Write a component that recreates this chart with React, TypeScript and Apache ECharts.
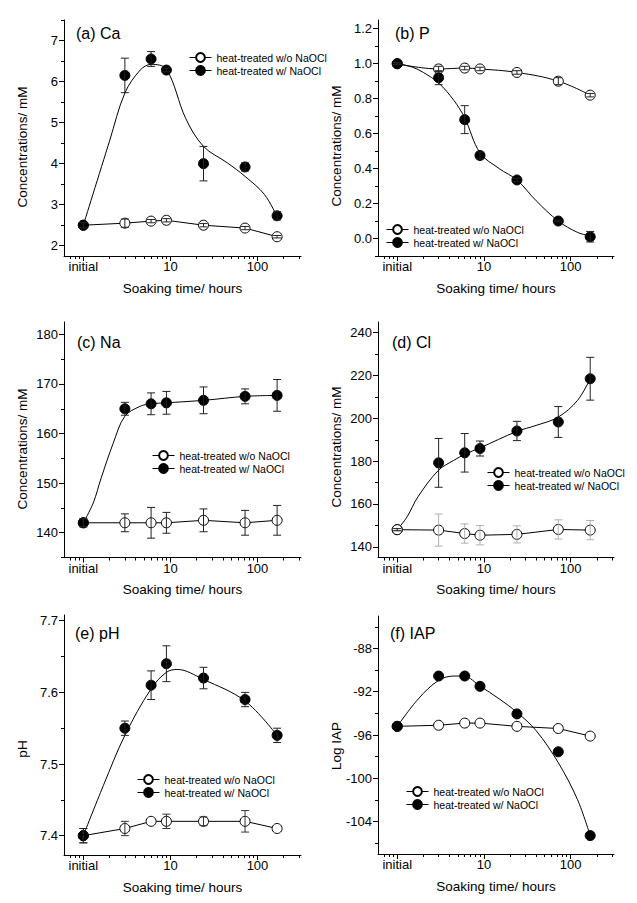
import React, { useEffect, useRef } from 'react';
import * as echarts from 'echarts';

const FONT = '"Liberation Sans", Arial, sans-serif';

// ---- shared x (soaking time, hours; "initial" plotted at 1 h on a log scale)
const HOURS = [1, 3, 6, 9, 24, 72, 168];
const X_MIN_HOURS = 0.6;
const X_MAX_HOURS = 316;
const X_TICK_HOURS = [1, 10, 100];
const X_TICK_LABELS = ['initial', '10', '100'];
const X_MINOR_HOURS = [0.7, 0.8, 0.9, 2, 3, 4, 5, 6, 7, 8, 9, 20, 30, 40, 50, 60, 70, 80, 90, 200, 300];

const NAME_OPEN = 'heat-treated w/o NaOCl';
const NAME_FILLED = 'heat-treated w/ NaOCl';

// ---- (a) Ca
const caOpen = [2.5, 2.55, 2.6, 2.62, 2.5, 2.43, 2.22];
const caOpenErr = [0.06, 0.1, 0.04, 0.04, 0.04, 0.04, 0.03];
const caFilled = [2.5, 6.15, 6.55, 6.28, 4.0, 3.92, 2.73];
const caFilledErr = [0.07, 0.42, 0.18, 0.04, 0.42, 0.1, 0.1];
const caFitHours = [1, 2, 3, 4.5, 6, 9, 15, 24, 45, 72, 120, 168];
const caFit = [2.5, 4.55, 5.72, 6.28, 6.42, 6.3, 5.1, 4.42, 4.02, 3.69, 3.25, 2.71];
const caYTicks = [2, 3, 4, 5, 6, 7];
const caYMinor = [2.5, 3.5, 4.5, 5.5, 6.5, 7.5];

// ---- (b) P
const pOpen = [1.0, 0.97, 0.975, 0.97, 0.95, 0.9, 0.82];
const pOpenErr = [0.005, 0.015, 0.01, 0.01, 0.01, 0.02, 0.01];
const pFilled = [1.0, 0.92, 0.68, 0.475, 0.335, 0.1, 0.01];
const pFilledErr = [0.005, 0.04, 0.08, 0.02, 0.01, 0.005, 0.03];
const pFitHours = [1, 1.5, 2, 3, 4.5, 6, 9, 15, 24, 40, 72, 120, 168];
const pFit = [1.0, 0.98, 0.95, 0.89, 0.79, 0.69, 0.49, 0.4, 0.335, 0.216, 0.1, 0.035, 0.015];
const pYTicks = [0, 0.2, 0.4, 0.6, 0.8, 1.0, 1.2];
const pYMinor = [-0.1, 0.1, 0.3, 0.5, 0.7, 0.9, 1.1];

// ---- (c) Na
const naOpen = [142, 142, 142, 142, 142.5, 142, 142.5];
const naOpenErr = [0.8, 1.8, 3.1, 2.1, 2.3, 2.5, 3.0];
const naFilled = [142, 165, 166, 166.2, 166.7, 167.5, 167.7];
const naFilledErr = [0.8, 1.3, 2.2, 2.3, 2.7, 1.5, 3.2];
const naFitHours = [1, 1.3, 1.6, 2.2, 3, 4.5, 6, 9, 24, 72, 168];
const naFit = [142, 146, 151, 158, 163.5, 165.5, 166, 166.2, 166.7, 167.5, 167.7];
const naYTicks = [140, 150, 160, 170, 180];
const naYMinor = [135, 145, 155, 165, 175];

// ---- (d) Cl
const clOpen = [148, 147.8, 146.2, 145.4, 145.8, 148.1, 147.8];
const clOpenErr = [0.5, 7.5, 4.5, 4.5, 4.0, 4.5, 4.5];
const clFilled = [148, 179.2, 183.9, 185.9, 194.1, 198.3, 218.5];
const clFilledErr = [0.5, 11.4, 9.0, 3.5, 4.5, 7.2, 10.0];
const clFitHours = [1, 1.3, 1.73, 3, 4.5, 6, 9, 24, 40, 72, 120, 168];
const clFit = [148, 154, 163.3, 175.8, 180.4, 183.2, 186.2, 193.9, 196.7, 200.6, 208.4, 218.5];
const clYTicks = [140, 160, 180, 200, 220, 240];
const clYMinor = [150, 170, 190, 210, 230];

// ---- (e) pH
const phOpen = [7.4, 7.41, 7.42, 7.42, 7.42, 7.42, 7.41];
const phOpenErr = [0.01, 0.01, 0, 0.01, 0.006, 0.015, 0];
const phFilled = [7.4, 7.55, 7.61, 7.64, 7.62, 7.59, 7.54];
const phFilledErr = [0.01, 0.01, 0.02, 0.025, 0.015, 0.01, 0.01];
const phFitHours = [1, 1.7, 3, 6, 9, 12, 24, 72, 168];
const phFit = [7.4, 7.47, 7.54, 7.605, 7.628, 7.632, 7.618, 7.588, 7.54];
const phYTicks = [7.4, 7.5, 7.6, 7.7];
const phYMinor = [7.45, 7.55, 7.65];

// ---- (f) IAP
const iapOpen = [-95.2, -95.1, -94.9, -94.9, -95.2, -95.4, -96.1];
const iapFilled = [-95.2, -90.55, -90.55, -91.5, -94.05, -97.55, -105.3];
const iapFitHours = [1, 1.75, 3, 4.5, 6, 9, 15, 24, 40, 72, 120, 168];
const iapFit = [-95.2, -92.66, -90.95, -90.55, -90.58, -91.48, -92.66, -93.9, -95.6, -98.56, -101.98, -105.3];
const iapYTicks = [-104, -100, -96, -92, -88];
const iapYMinor = [-106, -102, -98, -94, -90, -86];

type Panel = {
  title: string;
  yName: string;
  grid: [number, number, number, number];
  yMin: number;
  yMax: number;
  yTicks: number[];
  yMinor: number[];
  yDec: number;
  open: number[];
  openErr: number[] | null;
  openErrColor: string;
  openSmooth: boolean;
  openOnTop: boolean;
  filled: number[];
  filledErr: number[] | null;
  fitHours: number[];
  fit: number[];
  legend: [number, number];
  titlePos: [number, number];
  yNamePos: [number, number];
};

const panels: Panel[] = [
  {
    title: '(a) Ca', yName: 'Concentrations/ mM', grid: [64, 20, 237, 236],
    yMin: 1.75, yMax: 7.5, yTicks: caYTicks, yMinor: caYMinor, yDec: 0,
    open: caOpen, openErr: caOpenErr, openErrColor: '#222', openSmooth: false, openOnTop: false,
    filled: caFilled, filledErr: caFilledErr, fitHours: caFitHours, fit: caFit,
    legend: [189, 52], titlePos: [76, 33], yNamePos: [22, 147],
  },
  {
    title: '(b) P', yName: 'Concentrations/ mM', grid: [378, 20, 236, 236],
    yMin: -0.1, yMax: 1.25, yTicks: pYTicks, yMinor: pYMinor, yDec: 1,
    open: pOpen, openErr: pOpenErr, openErrColor: '#222', openSmooth: true, openOnTop: false,
    filled: pFilled, filledErr: pFilledErr, fitHours: pFitHours, fit: pFit,
    legend: [386, 224], titlePos: [395, 33], yNamePos: [336, 146],
  },
  {
    title: '(c) Na', yName: 'Concentrations/ mM', grid: [64, 322, 237, 235.5],
    yMin: 135, yMax: 182.5, yTicks: naYTicks, yMinor: naYMinor, yDec: 0,
    open: naOpen, openErr: naOpenErr, openErrColor: '#222', openSmooth: false, openOnTop: false,
    filled: naFilled, filledErr: naFilledErr, fitHours: naFitHours, fit: naFit,
    legend: [152, 450], titlePos: [77, 342], yNamePos: [22, 449],
  },
  {
    title: '(d) Cl', yName: 'Concentrations/ mM', grid: [378, 322, 236, 235.5],
    yMin: 135, yMax: 245, yTicks: clYTicks, yMinor: clYMinor, yDec: 0,
    open: clOpen, openErr: clOpenErr, openErrColor: '#b0b0b0', openSmooth: false, openOnTop: true,
    filled: clFilled, filledErr: clFilledErr, fitHours: clFitHours, fit: clFit,
    legend: [487, 467], titlePos: [392, 342], yNamePos: [336, 447],
  },
  {
    title: '(e) pH', yName: 'pH', grid: [64, 615, 237, 240],
    yMin: 7.373, yMax: 7.708, yTicks: phYTicks, yMinor: phYMinor, yDec: 1,
    open: phOpen, openErr: phOpenErr, openErrColor: '#333', openSmooth: false, openOnTop: false,
    filled: phFilled, filledErr: phFilledErr, fitHours: phFitHours, fit: phFit,
    legend: [137, 774], titlePos: [75, 633], yNamePos: [22, 749],
  },
  {
    title: '(f) IAP', yName: 'Log IAP', grid: [378, 616, 236, 238],
    yMin: -107, yMax: -85, yTicks: iapYTicks, yMinor: iapYMinor, yDec: 0,
    open: iapOpen, openErr: null, openErrColor: '#333', openSmooth: false, openOnTop: false,
    filled: iapFilled, filledErr: null, fitHours: iapFitHours, fit: iapFit,
    legend: [406, 786], titlePos: [390, 633], yNamePos: [336, 746],
  },
];

const lg = (h: number) => Math.log10(h);
const X_MIN = lg(X_MIN_HOURS);
const X_MAX = lg(X_MAX_HOURS);
const X_TICKS = X_TICK_HOURS.map(lg);
const X_MINOR = X_MINOR_HOURS.map(lg);

function errorBarSeries(i: number, values: number[], errs: number[], color: string, z: number) {
  const data = HOURS.map((h, k) => [lg(h), values[k] - errs[k], values[k] + errs[k]]).filter((_, k) => errs[k] > 0);
  return {
    type: 'custom',
    xAxisIndex: 2 * i,
    yAxisIndex: 2 * i,
    z,
    silent: true,
    encode: { x: 0, y: [1, 2] },
    data,
    renderItem: (_params: any, api: any) => {
      const x = api.value(0);
      const lo = api.coord([x, api.value(1)]);
      const hi = api.coord([x, api.value(2)]);
      const cw = 4;
      const style = { stroke: color, lineWidth: 1, fill: 'none' };
      return {
        type: 'group',
        children: [
          { type: 'line', shape: { x1: lo[0], y1: lo[1], x2: hi[0], y2: hi[1] }, style },
          { type: 'line', shape: { x1: lo[0] - cw, y1: lo[1], x2: lo[0] + cw, y2: lo[1] }, style },
          { type: 'line', shape: { x1: hi[0] - cw, y1: hi[1], x2: hi[0] + cw, y2: hi[1] }, style },
        ],
      };
    },
  };
}

function buildOption() {
  const axisLineStyle = { color: '#000', width: 1 };
  const grid = panels.map((p) => ({ left: p.grid[0], top: p.grid[1], width: p.grid[2], height: p.grid[3] }));

  const xAxis: any[] = [];
  const yAxis: any[] = [];
  const series: any[] = [];
  const legend: any[] = [];
  const graphic: any[] = [];

  panels.forEach((p, i) => {
    xAxis.push({
      type: 'value', gridIndex: i, min: X_MIN, max: X_MAX, position: 'bottom',
      name: 'Soaking time/ hours', nameLocation: 'middle', nameGap: 25,
      nameTextStyle: { fontSize: 13.5, color: '#000', fontFamily: FONT },
      axisLine: { show: true, onZero: false, lineStyle: axisLineStyle },
      axisTick: { show: true, inside: false, length: 5, customValues: X_TICKS, lineStyle: axisLineStyle },
      axisLabel: {
        show: true, customValues: X_TICKS, margin: 4, fontSize: 13, color: '#000', fontFamily: FONT,
        formatter: (v: number) => {
          const k = X_TICKS.findIndex((t) => Math.abs(t - v) < 1e-6);
          return k >= 0 ? X_TICK_LABELS[k] : '';
        },
      },
      splitLine: { show: false },
    });
    xAxis.push({
      type: 'value', gridIndex: i, min: X_MIN, max: X_MAX, position: 'bottom',
      axisLine: { show: false, onZero: false },
      axisTick: { show: true, inside: false, length: 3, customValues: X_MINOR, lineStyle: axisLineStyle },
      axisLabel: { show: false },
      splitLine: { show: false },
    });
    yAxis.push({
      type: 'value', gridIndex: i, min: p.yMin, max: p.yMax, position: 'left',
      axisLine: { show: true, onZero: false, lineStyle: axisLineStyle },
      axisTick: { show: true, inside: false, length: 5, customValues: p.yTicks, lineStyle: axisLineStyle },
      axisLabel: {
        show: true, customValues: p.yTicks, margin: 6, fontSize: 13, color: '#000', fontFamily: FONT,
        formatter: (v: number) => v.toFixed(p.yDec),
      },
      splitLine: { show: false },
    });
    yAxis.push({
      type: 'value', gridIndex: i, min: p.yMin, max: p.yMax, position: 'left',
      axisLine: { show: false, onZero: false },
      axisTick: { show: true, inside: false, length: 3, customValues: p.yMinor, lineStyle: axisLineStyle },
      axisLabel: { show: false },
      splitLine: { show: false },
    });

    // fitted curve for the NaOCl-treated series
    series.push({
      type: 'line', xAxisIndex: 2 * i, yAxisIndex: 2 * i, z: 2, silent: true,
      data: p.fitHours.map((h, k) => [lg(h), p.fit[k]]),
      smooth: 0.35, symbol: 'none', showSymbol: false,
      lineStyle: { color: '#000', width: 1 },
    });
    // without NaOCl: points joined by line
    series.push({
      type: 'line', name: NAME_OPEN, xAxisIndex: 2 * i, yAxisIndex: 2 * i, z: p.openOnTop ? 5 : 3,
      data: HOURS.map((h, k) => [lg(h), p.open[k]]),
      smooth: p.openSmooth ? 0.4 : false,
      symbol: 'circle', symbolSize: 10, showSymbol: true,
      itemStyle: { color: '#fff', borderColor: '#000', borderWidth: 1 },
      lineStyle: { color: '#000', width: 1 },
    });
    // with NaOCl: points only
    series.push({
      type: 'line', name: NAME_FILLED, xAxisIndex: 2 * i, yAxisIndex: 2 * i, z: 4,
      data: HOURS.map((h, k) => [lg(h), p.filled[k]]),
      symbol: 'circle', symbolSize: 10, showSymbol: true,
      itemStyle: { color: '#000', borderColor: '#000', borderWidth: 1 },
      lineStyle: { color: '#000', width: 0, opacity: 0 },
    });
    if (p.openErr) series.push(errorBarSeries(i, p.open, p.openErr, p.openErrColor, 6));
    if (p.filledErr) series.push(errorBarSeries(i, p.filled, p.filledErr, '#222', 6));

    legend.push({
      orient: 'vertical', left: p.legend[0], top: p.legend[1], padding: 0,
      itemGap: 2, itemWidth: 22, itemHeight: 11, selectedMode: false,
      data: [NAME_OPEN, NAME_FILLED],
      textStyle: { fontSize: 10.5, color: '#000', fontFamily: FONT },
      lineStyle: { color: '#000', width: 1, opacity: 1 },
    });

    graphic.push({
      type: 'text', x: p.titlePos[0], y: p.titlePos[1], z: 10,
      style: { text: p.title, fill: '#000', fontSize: 16, fontFamily: FONT, textAlign: 'left', textVerticalAlign: 'middle' },
    });
    graphic.push({
      type: 'text', x: p.yNamePos[0], y: p.yNamePos[1], rotation: Math.PI / 2, z: 10,
      style: { text: p.yName, fill: '#000', fontSize: 13.5, fontFamily: FONT, textAlign: 'center', textVerticalAlign: 'middle' },
    });
  });

  return {
    animation: false,
    backgroundColor: '#fff',
    textStyle: { fontFamily: FONT },
    grid, xAxis, yAxis, series, legend, graphic,
  };
}

export default function App() {
  const ref = useRef<HTMLDivElement>(null);
  useEffect(() => {
    if (!ref.current) return;
    const chart = echarts.init(ref.current, null, { renderer: 'svg' });
    chart.setOption(buildOption() as any);
    return () => chart.dispose();
  }, []);
  return (
    <div
      ref={ref}
      style={{ position: 'absolute', left: 0, top: 0, width: 637, height: 903, background: '#fff' }}
    />
  );
}
